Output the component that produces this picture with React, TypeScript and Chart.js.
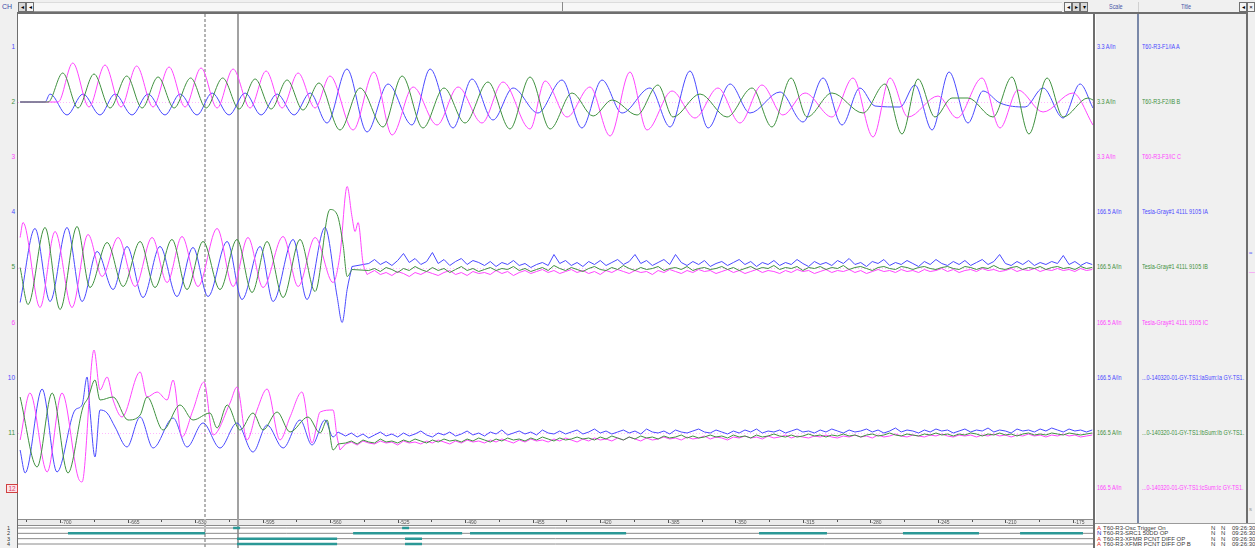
import React, { useEffect, useRef } from 'react';
import { Chart, registerables } from 'chart.js';
Chart.register(...registerables);

// ---------- axes (time in ms, amplitude in tenths of a grid step) ----------
const X_MIN = -721.8;
const X_MAX = -164.6;
const Y_MIN = 0;
const Y_MAX = 50.5;
const TICK_VALUES = [-700, -665, -630, -595, -560, -525, -490, -455, -420, -385, -350, -315, -280, -245, -210, -175];

// ---------- channel list ----------
const CHANNEL_NUMBERS = ['1', '2', '3', '4', '5', '6', '10', '11', '12'];
const CHANNEL_SCALES = ['3.3 A/In', '3.3 A/In', '3.3 A/In', '166.5 A/In', '166.5 A/In', '166.5 A/In', '166.5 A/In', '166.5 A/In', '166.5 A/In'];
const CHANNEL_TITLES = [
  'T60-R3-F1/IA A',
  'T60-R3-F2/IB B',
  'T60-R3-F3/IC C',
  'Tesla-Gray#1 411L 9105 IA',
  'Tesla-Gray#1 411L 9105 IB',
  'Tesla-Gray#1 411L 9105 IC',
  '...0-140320-01-GY-TS1:IaSum:Ia GY-TS1.',
  '...0-140320-01-GY-TS1:IbSum:Ib GY-TS1.',
  '...0-140320-01-GY-TS1:IcSum:Ic GY-TS1.',
];
const GROUP_BASE = [41.7, 25.15, 8.6];
const CURSORS = [-624.8, -607.8];

// ---------- group 1 : T60-R3 (time ms, value) ----------
const TOP_BLUE: [number, number][] = [
  [-720.7, 0], [-707.8, 0], [-705.2, 0.8], [-696.4, -1.3], [-688.1, 0.8], [-679.3, -1.3], [-671.5, 0.8], [-662.7, -1.3],
  [-654.4, 0.8], [-645.6, -1.3], [-637.8, 0.8], [-629.0, -1.3], [-621.2, 0.9], [-612.4, -1.3], [-604.1, 0.9], [-595.8, -1.3],
  [-587.5, 0.8], [-578.7, -1.3], [-570.4, 0.9], [-561.6, -2.1], [-551.3, 3.3], [-540.9, -3.0], [-530.0, 1.8], [-517.6, -2.3],
  [-508.2, 3.3], [-496.3, -2.6], [-486.5, 2.3], [-475.6, -1.8], [-465.2, 1.4], [-452.3, -1.1], [-439.8, 2.2], [-429.5, -2.6],
  [-419.1, 2.2], [-408.7, -1.1], [-394.2, 1.4], [-383.8, -2.5], [-373.5, 3.1], [-364.1, -2.6], [-352.7, 1.8], [-342.4, -1.1],
  [-326.8, 1.0], [-314.9, -2.0], [-304.5, 2.4], [-294.7, -2.3], [-285.4, 1.4], [-277.6, -0.4], [-264.6, -0.5], [-256.9, 1.7],
  [-248.0, -2.8], [-239.2, 3.0], [-229.4, -2.1], [-221.6, 1.1], [-212.8, -0.1], [-199.8, -0.5], [-190.5, 1.4], [-180.1, -1.6],
  [-171.3, 1.8], [-164.6, -0.6],
];
const TOP_GREEN: [number, number][] = [
  [-720.7, 0], [-706.2, 0], [-698.6, 2.9], [-690.7, -0.6], [-682.4, 2.8], [-674.1, -0.6], [-665.4, 2.6], [-657.5, -0.6],
  [-649.2, 2.5], [-640.9, -0.6], [-632.3, 2.4], [-624.3, -0.6], [-615.7, 2.4], [-607.2, -0.7], [-598.9, 2.3], [-590.6, -0.7],
  [-582.3, 2.2], [-574.1, -0.8], [-565.8, 1.9], [-554.9, -2.8], [-544.5, 1.4], [-532.6, -2.5], [-522.7, 2.6], [-511.9, -2.6],
  [-501.0, 1.4], [-490.1, -2.1], [-478.2, 2.0], [-466.8, -2.7], [-456.4, 2.5], [-446.0, -2.7], [-434.6, 0.9], [-423.7, -1.4],
  [-413.9, 0.2], [-400.9, -1.3], [-390.1, 1.7], [-382.3, -1.5], [-368.3, 0.8], [-354.3, -1.5], [-341.3, 1.4], [-331.0, -2.5],
  [-321.1, 2.4], [-312.8, -1.5], [-299.9, 0.9], [-283.8, -1.1], [-272.4, 1.8], [-263.6, -3.2], [-255.3, 2.3], [-246.5, -1.5],
  [-237.7, 0.4], [-229.4, 0.4], [-216.4, -1.5], [-206.6, 2.5], [-197.8, -3.2], [-188.4, 2.4], [-180.1, -1.5], [-167.2, 0.4],
  [-164.6, 0.2],
];
const TOP_PINK: [number, number][] = [
  [-720.7, 0], [-701.0, 0], [-693.4, 3.9], [-685.0, -0.5], [-676.7, 3.7], [-668.4, -0.5], [-660.3, 3.6], [-651.8, -0.5],
  [-643.5, 3.5], [-635.2, -0.5], [-626.9, 3.4], [-618.6, -0.6], [-610.3, 3.3], [-601.5, -0.6], [-593.2, 3.1], [-584.9, -0.6],
  [-576.6, 2.9], [-567.8, -0.6], [-560.1, 2.6], [-548.1, -2.8], [-537.3, 3.0], [-527.9, -3.3], [-517.0, 1.5], [-504.6, -2.3],
  [-493.7, 1.5], [-481.3, -2.1], [-470.4, 2.0], [-456.4, -2.7], [-448.6, 2.1], [-437.2, -1.5], [-425.3, 1.5], [-414.9, -3.4],
  [-404.6, 3.0], [-395.8, -2.8], [-382.8, 1.1], [-370.9, -1.6], [-359.0, 1.4], [-347.6, -2.1], [-336.2, 1.7], [-325.3, -1.3],
  [-313.9, 0.9], [-299.9, -1.5], [-289.0, 2.4], [-278.6, -3.5], [-269.8, 2.4], [-260.5, -1.5], [-244.9, 0.6], [-235.1, -1.6],
  [-222.1, 2.4], [-212.8, -2.6], [-203.5, 1.2], [-190.5, -1.0], [-175.0, 0.9], [-164.6, -2.3],
];

// ---------- group 2 : Tesla-Gray#1 411L 9105 ----------
const MID_BLUE: [number, number][] = [
  [-720.7, -3.5], [-713.0, 3.9], [-705.2, -3.4], [-696.4, 4.0], [-688.6, -3.4], [-680.8, 1.6], [-672.5, -2.2], [-665.3, 2.1],
  [-657.0, -3.0], [-648.2, 2.1], [-639.4, -2.9], [-631.1, 2.0], [-623.3, -2.9], [-613.4, 2.6], [-605.7, -3.2], [-596.3, 2.1],
  [-589.6, -3.4], [-579.2, 2.8], [-572.0, -3.2], [-562.7, 4.0], [-556.4, -2.9], [-553.8, -5.5], [-551.2, -2.2], [-548.7, 0.1],
];
const MID_GREEN: [number, number][] = [
  [-720.7, 0], [-716.6, -3.7], [-707.8, 4.0], [-700.0, -4.2], [-691.2, 4.1], [-684.5, -2.0], [-675.6, 2.5], [-667.3, -1.9],
  [-658.5, 2.6], [-650.8, -2.0], [-642.0, 2.8], [-634.2, -2.2], [-625.9, 2.6], [-617.1, -2.2], [-608.3, 2.8], [-600.5, -2.5],
  [-592.7, 2.6], [-584.4, -3.0], [-575.6, 2.8], [-567.8, -2.4], [-560.1, 5.8], [-556.4, 5.3], [-553.3, 2.3], [-551.2, -0.9],
  [-548.7, -0.2],
];
const MID_PINK: [number, number][] = [
  [-720.7, 3.0], [-719.2, 4.5], [-710.4, -4.0], [-702.6, 3.6], [-693.8, -4.0], [-685.5, 3.3], [-678.2, -0.9], [-669.9, 3.0],
  [-661.1, -1.9], [-652.3, 3.0], [-644.5, -1.5], [-636.8, 3.1], [-628.5, -1.9], [-618.6, 3.9], [-610.3, -1.9], [-602.6, 3.0],
  [-594.8, -2.0], [-584.4, 3.1], [-576.6, -1.9], [-567.8, 3.0], [-558.5, -1.5], [-554.9, 1.3], [-551.2, 8.1], [-548.7, 5.1],
  [-547.1, 3.6], [-545.5, 4.5], [-543.0, 0.5], [-540.9, -0.7],
];
const MID_NOISE_T0 = -540;
const MID_NOISE_DT = 3;
const MID_BLUE_NOISE = [
  0.4, 0.8, 0.3, 0.6, 0.2, 0.7, 1.4, 0.5, 0.9, 0.3, 0.6, 1.5, 0.4, 0.8, 0.2, 0.6, 0.9, 0.3, 0.7, 0.5,
  0.2, 0.6, 0.1, 0.5, 0.3, 0.7, 0.2, 0.4, 0.0, 0.3, 0.5, 0.2, 1.3, 0.4, 0.7, 0.2, 0.5, 0.1, 0.6, 0.3,
  0.7, 0.2, 0.5, 0.8, 0.3, 0.6, 1.3, 0.4, 0.7, 0.2, 0.5, 0.8, 0.3, 1.3, 0.5, 0.2, 0.6, 0.3, 0.7, 0.1,
  0.4, 0.6, 0.2, 0.5, 0.8, 0.3, 0.6, 0.1, 0.5, 0.3, 0.7, 0.2, 0.5, 0.3, 0.8, 0.4, 0.1, 0.6, 0.3, 0.5,
  0.2, 0.7, 0.4, 0.9, 0.3, 0.5, 0.1, 0.6, 0.4, 0.8, 0.2, 0.5, 0.3, 0.7, 0.4, 0.1, 0.6, 0.3, 0.8, 0.4,
  0.2, 0.6, 0.3, 0.7, 0.2, 0.5, 0.8, 0.3, 0.6, 1.3, 0.4, 0.2, 0.6, 0.3, 0.7, 0.2, 0.5, 0.3, 0.6, 0.4,
  1.2, 0.3, 0.6, 0.2, 0.5, 0.3,
];
const MID_GREEN_NOISE = [
  -0.3, -0.1, -0.4, 0.0, -0.2, -0.5, -0.1, -0.3, 0.1, -0.2, -0.4, 0.0, -0.3, -0.1, -0.5, -0.2, 0.1, -0.3, -0.1, -0.4,
  -0.2, 0.0, -0.3, -0.1, -0.2, 0.1, -0.3, -0.1, -0.4, -0.2, 0.0, -0.3, 0.2, -0.1, -0.3, 0.0, -0.2, -0.4, -0.1, 0.1,
  -0.2, -0.3, 0.0, -0.2, 0.2, -0.1, -0.3, 0.0, -0.2, -0.1, 0.1, -0.3, -0.1, 0.0, -0.2, 0.1, -0.3, -0.1, 0.0, -0.2,
  -0.1, 0.1, -0.2, 0.0, -0.3, -0.1, 0.1, -0.2, 0.0, -0.1, 0.2, -0.2, 0.0, -0.1, 0.1, -0.3, 0.0, -0.1, 0.1, -0.2,
  0.0, -0.1, 0.2, -0.2, 0.0, 0.1, -0.1, -0.3, 0.0, 0.1, -0.1, -0.2, 0.1, 0.0, -0.2, 0.0, 0.1, -0.1, -0.2, 0.0,
  0.1, -0.1, -0.2, 0.1, 0.0, -0.2, 0.0, -0.1, 0.2, -0.1, -0.2, 0.0, 0.1, -0.2, 0.0, -0.1, 0.1, -0.2, 0.0, 0.1,
  -0.1, 0.0, -0.2, 0.1, -0.1, 0.0,
];
const MID_PINK_NOISE = [
  -0.6, -0.3, -0.7, -0.5, -0.8, -0.4, -0.6, -0.9, -0.5, -0.7, -0.4, -0.6, -0.8, -0.5, -0.3, -0.7, -0.5, -0.8, -0.4, -0.6,
  -0.5, -0.7, -0.3, -0.6, -0.4, -0.8, -0.5, -0.3, -0.6, -0.4, -0.2, -0.5, -0.3, -0.6, -0.4, -0.2, -0.5, -0.3, -0.6, -0.4,
  -0.7, -0.3, -0.5, -0.2, -0.4, -0.6, -0.3, -0.5, -0.4, -0.7, -0.3, -0.5, -0.2, -0.4, -0.6, -0.3, -0.5, -0.2, -0.4, -0.3,
  -0.6, -0.4, -0.2, -0.5, -0.3, -0.6, -0.4, -0.2, -0.5, -0.3, -0.4, -0.6, -0.3, -0.5, -0.2, -0.4, -0.3, -0.6, -0.4, -0.2,
  -0.5, -0.3, -0.4, -0.2, -0.5, -0.3, -0.6, -0.4, -0.2, -0.4, -0.3, -0.5, -0.2, -0.4, -0.3, -0.5, -0.2, -0.4, -0.3, -0.1,
  -0.4, -0.2, -0.5, -0.3, -0.2, -0.4, -0.1, -0.3, -0.2, -0.4, -0.3, -0.1, -0.4, -0.2, -0.3, -0.1, -0.4, -0.2, -0.3, -0.1,
  -0.3, -0.2, -0.4, -0.1, -0.3, -0.2,
];

// ---------- group 3 : GY-TS1 sums ----------
const BOT_BLUE: [number, number][] = [
  [-720.7, -1.7], [-718.1, -4.0], [-709.3, 4.4], [-701.6, -3.9], [-692.2, 2.3], [-688.6, 2.8], [-686.0, 5.6], [-684.5, 2.3],
  [-681.9, -2.4], [-679.3, 2.3], [-675.6, 2.0], [-671.5, 0.6], [-665.3, -1.4], [-658.5, 1.6], [-651.8, -1.5], [-641.4, 1.5],
  [-634.2, -1.4], [-625.9, 1.0], [-617.1, -1.5], [-608.3, 1.0], [-600.0, -1.9], [-592.7, 0.8], [-584.4, -1.5], [-575.6, 1.3],
  [-569.4, -1.2], [-562.7, 1.3], [-558.5, -0.4], [-555.9, 0.1],
];
const BOT_GREEN: [number, number][] = [
  [-720.7, 3.6], [-711.9, -3.4], [-704.1, 4.0], [-695.9, -4.0], [-688.1, 2.6], [-685.5, 3.5], [-681.9, 5.3], [-679.3, 3.3],
  [-672.5, 3.6], [-664.8, 1.3], [-658.5, 1.8], [-654.9, 3.6], [-646.6, 0.3], [-637.8, 2.8], [-631.1, 1.3], [-622.3, 2.0],
  [-618.6, 0.5], [-613.4, 2.8], [-606.7, 0.3], [-600.0, 2.0], [-594.8, 0.3], [-587.5, 2.1], [-580.8, 0.1], [-571.5, 1.6],
  [-565.2, 0.0], [-561.6, 1.3], [-558.5, -1.7], [-555.9, -1.1],
];
const BOT_PINK: [number, number][] = [
  [-720.7, -0.7], [-715.6, 4.0], [-706.7, -3.9], [-699.0, 4.0], [-690.7, -4.4], [-688.6, -4.9], [-682.4, 8.3], [-679.3, 4.3],
  [-675.6, 5.6], [-672.5, 3.3], [-667.9, 1.6], [-658.5, 6.1], [-654.9, 3.6], [-649.7, 4.1], [-644.5, 3.3], [-641.4, 5.3],
  [-636.8, -0.4], [-631.1, 2.3], [-625.4, 5.1], [-620.7, -0.2], [-611.9, 3.0], [-608.3, 4.6], [-603.1, -0.7], [-597.9, 2.3],
  [-592.7, 4.4], [-586.0, -0.7], [-580.8, 1.6], [-574.6, 4.1], [-569.4, -1.0], [-565.2, 2.1], [-558.5, 2.3], [-556.4, -0.4],
  [-554.9, -1.7],
];
const BOT_NOISE_T0 = -552;
const BOT_NOISE_DT = 3;
const BOT_BLUE_NOISE = [
  -0.3, 0.0, -0.4, -0.1, -0.5, -0.2, 0.1, -0.3, -0.1, -0.4, 0.0, -0.3, -0.1, 0.2, -0.2, -0.4, 0.0, -0.2, 0.1, -0.3,
  -0.1, 0.2, -0.2, 0.0, -0.3, 0.1, -0.1, 0.3, -0.2, 0.0, 0.2, -0.1, 0.1, -0.2, 0.3, 0.0, -0.1, 0.2, -0.1, 0.1,
  0.3, -0.1, 0.1, 0.4, 0.0, 0.2, -0.1, 0.1, 0.3, 0.0, 0.2, -0.1, 0.4, 0.1, 0.0, 0.2, -0.1, 0.3, 0.1, 0.0,
  0.2, 0.4, 0.1, 0.0, 0.3, 0.1, -0.1, 0.2, 0.0, 0.3, 0.1, 0.4, 0.0, 0.2, 0.1, 0.3, 0.0, 0.2, 0.4, 0.1,
  0.2, 0.0, 0.3, 0.1, 0.4, 0.2, 0.0, 0.3, 0.1, 0.2, 0.4, 0.1, 0.3, 0.0, 0.2, 0.5, 0.1, 0.3, 0.2, 0.0,
  0.3, 0.1, 0.4, 0.2, 0.3, 0.0, 0.2, 0.4, 0.1, 0.3, 0.2, 0.5, 0.1, 0.3, 0.2, 0.0, 0.4, 0.2, 0.3, 0.1,
  0.4, 0.2, 0.5, 0.3, 0.1, 0.4, 0.2, 0.3, 0.1, 0.3,
];
const BOT_GREEN_NOISE = [
  -1.0, -0.8, -1.1, -0.7, -0.9, -1.0, -0.6, -0.9, -0.8, -1.0, -0.7, -0.9, -0.6, -0.8, -1.0, -0.7, -0.9, -0.6, -0.8, -0.7,
  -0.9, -0.6, -0.8, -0.5, -0.7, -0.9, -0.6, -0.8, -0.5, -0.7, -0.6, -0.8, -0.5, -0.7, -0.4, -0.6, -0.8, -0.5, -0.7, -0.6,
  -0.4, -0.6, -0.5, -0.7, -0.4, -0.6, -0.3, -0.5, -0.7, -0.4, -0.6, -0.3, -0.5, -0.4, -0.6, -0.3, -0.5, -0.4, -0.2, -0.5,
  -0.3, -0.5, -0.4, -0.2, -0.4, -0.3, -0.5, -0.2, -0.4, -0.3, -0.5, -0.2, -0.4, -0.3, -0.1, -0.3, -0.4, -0.2, -0.4, -0.3,
  -0.1, -0.3, -0.2, -0.4, -0.2, -0.3, -0.1, -0.3, -0.2, -0.4, -0.2, -0.1, -0.3, -0.2, 0.0, -0.2, -0.3, -0.1, -0.2, -0.3,
  -0.1, -0.2, 0.0, -0.2, -0.1, -0.3, -0.1, -0.2, 0.0, -0.1, -0.3, -0.1, -0.2, 0.0, -0.2, -0.1, -0.3, -0.1, 0.0, -0.2,
  -0.1, -0.2, 0.0, -0.1, -0.2, 0.0, -0.1, -0.2, -0.1, 0.0,
];
const BOT_PINK_NOISE = [
  -1.1, -0.9, -1.2, -0.8, -1.0, -1.1, -0.8, -1.0, -0.9, -1.2, -0.8, -1.0, -0.9, -1.1, -0.8, -1.0, -0.7, -0.9, -1.1, -0.8,
  -1.0, -0.7, -0.9, -0.8, -1.0, -0.7, -0.9, -0.6, -0.8, -1.0, -0.7, -0.9, -0.6, -0.8, -0.7, -0.9, -0.6, -0.8, -0.5, -0.7,
  -0.9, -0.6, -0.8, -0.5, -0.7, -0.6, -0.8, -0.5, -0.7, -0.4, -0.6, -0.8, -0.5, -0.7, -0.6, -0.4, -0.6, -0.5, -0.7, -0.4,
  -0.6, -0.5, -0.3, -0.6, -0.4, -0.5, -0.7, -0.4, -0.5, -0.3, -0.5, -0.4, -0.6, -0.3, -0.5, -0.4, -0.2, -0.5, -0.3, -0.4,
  -0.5, -0.3, -0.4, -0.2, -0.4, -0.5, -0.3, -0.4, -0.2, -0.4, -0.3, -0.5, -0.2, -0.4, -0.3, -0.1, -0.3, -0.4, -0.2, -0.3,
  -0.4, -0.2, -0.3, -0.1, -0.3, -0.4, -0.2, -0.3, -0.2, -0.4, -0.2, -0.3, -0.1, -0.3, -0.2, -0.4, -0.2, -0.3, -0.1, -0.3,
  -0.2, -0.4, -0.2, -0.3, -0.1, -0.3, -0.2, -0.4, -0.3, -0.2,
];

// ---------- digital channels (on intervals, ms) ----------
const DIGITAL_ROWS = ['1', '2', '3', '4'];
const DIGITAL_ON: [number, number][][] = [
  [[-610.3, -606.7], [-522.7, -519.1]],
  [[-695.9, -624.8], [-548.1, -491.6], [-487.5, -406.6], [-337.7, -302.5], [-263.1, -223.7], [-202.4, -169.8]],
  [[-608.3, -556.4], [-521.2, -512.4]],
  [[-608.3, -556.4], [-521.2, -512.4]],
];
const DIGITAL_NAMES = ['T60-R3-Osc Trigger On', 'T60-R3-SRC1 50DD OP', 'T60-R3-XFMR PCNT DIFF OP', 'T60-R3-XFMR PCNT DIFF OP B'];
const DIGITAL_TYPES = ['A', 'N', 'A', 'A'];

const BLUE = '#4a4aff';
const GREEN = '#3f913f';
const MAGENTA = '#ff45ff';
const CH_COLORS = [BLUE, GREEN, MAGENTA, BLUE, GREEN, MAGENTA, BLUE, GREEN, MAGENTA];
const FONT = "'Liberation Sans', Arial, sans-serif";

const PLOT_LEFT = 18;
const PLOT_TOP = 14;
const PLOT_W = 1075;
const PLOT_H = 505;
const ROW0_Y = 47;
const ROW_STEP = 55.1;

function pairs(list: [number, number][], base: number) {
  return list.map(([t, v]) => ({ x: t, y: base + v }));
}
function series(list: number[], t0: number, dt: number, base: number) {
  return list.map((v, i) => ({ x: t0 + i * dt, y: base + v }));
}

const cursorPlugin = {
  id: 'cursors',
  beforeDatasetsDraw(chart: any) {
    const { ctx, scales } = chart;
    ctx.save();
    CURSORS.forEach((t, i) => {
      const px = Math.round(scales.x.getPixelForValue(t));
      ctx.beginPath();
      ctx.lineWidth = 2;
      ctx.strokeStyle = i === 0 ? '#b4b4b4' : '#a2a2a2';
      ctx.setLineDash(i === 0 ? [3, 2] : []);
      ctx.moveTo(px, 0);
      ctx.lineTo(px, chart.height);
      ctx.stroke();
    });
    ctx.restore();
  },
};

const baselinePlugin = {
  id: 'baselines',
  beforeDatasetsDraw(chart: any) {
    const { ctx, chartArea, scales } = chart;
    ctx.save();
    ctx.strokeStyle = '#ffb8ff';
    ctx.lineWidth = 1;
    ctx.setLineDash([1, 2]);
    GROUP_BASE.forEach((b) => {
      const py = Math.round(scales.y.getPixelForValue(b)) + 0.5;
      ctx.beginPath();
      ctx.moveTo(chartArea.left, py);
      ctx.lineTo(chartArea.right, py);
      ctx.stroke();
    });
    ctx.restore();
  },
};

const stripPlugin = {
  id: 'timeStrip',
  beforeDraw(chart: any) {
    const { ctx, scales, width } = chart;
    ctx.save();
    ctx.fillStyle = '#ffffff';
    ctx.fillRect(0, 0, width, chart.height);
    ctx.fillStyle = '#ececec';
    ctx.fillRect(0, 0, width, 6);
    ctx.fillStyle = '#8c8c8c';
    ctx.fillRect(0, 0, width, 1);
    ctx.fillRect(0, 6, width, 1);
    ctx.fillStyle = '#555';
    ctx.font = `5px ${FONT}`;
    ctx.textBaseline = 'middle';
    TICK_VALUES.forEach((t) => {
      const px = Math.round(scales.x.getPixelForValue(t));
      ctx.fillRect(px, 1, 1, 3);
      ctx.fillText(String(t), px + 1.5, 3.8);
      const mx = Math.round(scales.x.getPixelForValue(t + 17.5));
      if (t + 17.5 < X_MAX) ctx.fillRect(mx, 1, 1, 2);
      const mx0 = Math.round(scales.x.getPixelForValue(t - 17.5));
      if (t === TICK_VALUES[0]) ctx.fillRect(mx0, 1, 1, 2);
    });
    ctx.restore();
  },
};

export default function App() {
  const analogRef = useRef<HTMLCanvasElement>(null);
  const digitalRef = useRef<HTMLCanvasElement>(null);

  useEffect(() => {
    if (!analogRef.current || !digitalRef.current) return;
    const smooth = (data: any[], color: string) => ({
      data,
      borderColor: color,
      borderWidth: 1,
      pointRadius: 0,
      fill: false,
      cubicInterpolationMode: 'monotone',
    });
    const jagged = (data: any[], color: string) => ({
      data,
      borderColor: color,
      borderWidth: 1,
      pointRadius: 0,
      fill: false,
      tension: 0,
    });
    const withNoise = (osc: [number, number][], noise: number[], t0: number, dt: number, base: number, color: string) => {
      const head = pairs(osc, base);
      const tail = [head[head.length - 1], ...series(noise, t0, dt, base)];
      return [jagged(tail, color), smooth(head, color)];
    };
    const [b1, b2, b3] = GROUP_BASE;
    const analog = new Chart(analogRef.current, {
      type: 'line',
      data: {
        datasets: [
          smooth(pairs(TOP_GREEN, b1), GREEN),
          smooth(pairs(TOP_PINK, b1), MAGENTA),
          smooth(pairs(TOP_BLUE, b1), BLUE),
          ...withNoise(MID_GREEN, MID_GREEN_NOISE, MID_NOISE_T0, MID_NOISE_DT, b2, GREEN),
          ...withNoise(MID_PINK, MID_PINK_NOISE, MID_NOISE_T0, MID_NOISE_DT, b2, MAGENTA),
          ...withNoise(MID_BLUE, MID_BLUE_NOISE, MID_NOISE_T0, MID_NOISE_DT, b2, BLUE),
          ...withNoise(BOT_GREEN, BOT_GREEN_NOISE, BOT_NOISE_T0, BOT_NOISE_DT, b3, GREEN),
          ...withNoise(BOT_PINK, BOT_PINK_NOISE, BOT_NOISE_T0, BOT_NOISE_DT, b3, MAGENTA),
          ...withNoise(BOT_BLUE, BOT_BLUE_NOISE, BOT_NOISE_T0, BOT_NOISE_DT, b3, BLUE),
        ] as any,
      },
      options: {
        animation: false,
        responsive: false,
        devicePixelRatio: 1,
        parsing: false as any,
        normalized: true,
        layout: { padding: 0 },
        plugins: { legend: { display: false }, tooltip: { enabled: false } },
        events: [],
        scales: {
          x: { type: 'linear', min: X_MIN, max: X_MAX, display: false },
          y: { type: 'linear', min: Y_MIN, max: Y_MAX, display: false },
        },
      },
      plugins: [baselinePlugin, cursorPlugin],
    });

    const digitalSets: any[] = [];
    DIGITAL_ROWS.forEach((_, r) => {
      digitalSets.push({
        data: [{ x: X_MIN, y: r + 1 }, { x: X_MAX, y: r + 1 }],
        borderColor: '#8a8a8a',
        borderWidth: 1,
        pointRadius: 0,
        order: 2,
      });
      const pts: any[] = [];
      DIGITAL_ON[r].forEach(([s, e]) => {
        pts.push({ x: s, y: r + 1 }, { x: e, y: r + 1 }, { x: e, y: null });
      });
      digitalSets.push({
        data: pts,
        borderColor: '#2b9896',
        borderWidth: 2.5,
        pointRadius: 0,
        order: 1,
        spanGaps: false,
      });
    });
    const digital = new Chart(digitalRef.current, {
      type: 'line',
      data: { datasets: digitalSets },
      options: {
        animation: false,
        responsive: false,
        devicePixelRatio: 1,
        parsing: false as any,
        layout: { padding: { top: 7, left: 0, right: 0, bottom: 0 } },
        plugins: { legend: { display: false }, tooltip: { enabled: false } },
        events: [],
        scales: {
          x: { type: 'linear', min: X_MIN, max: X_MAX, display: false },
          y: { type: 'linear', min: 0.625, max: 4.75, reverse: true, display: false },
        },
      },
      plugins: [stripPlugin, cursorPlugin],
    });
    return () => {
      analog.destroy();
      digital.destroy();
    };
  }, []);

  const small: React.CSSProperties = { position: 'absolute', fontFamily: FONT, fontSize: 6.5, lineHeight: '8px', whiteSpace: 'nowrap' };
  const narrow: React.CSSProperties = { ...small, transform: 'scaleX(0.84)', transformOrigin: 'left center' };
  const btn = (left: number, glyph: string, dark = false): React.ReactNode => (
    <div
      key={left}
      style={{
        position: 'absolute', left, top: 2, width: 6, height: 8, border: '1px solid #707070', background: dark ? '#d8d8d8' : '#f4f4f4',
        fontSize: 6, lineHeight: '8px', textAlign: 'center', color: '#000', fontFamily: FONT,
      }}
    >
      {glyph}
    </div>
  );

  return (
    <div style={{ position: 'fixed', left: 0, top: 0, width: 1255, height: 548, background: '#f0f0f0', overflow: 'hidden' }}>
      {/* header */}
      <div style={{ ...small, left: 2, top: 3, color: '#3848a8', fontSize: 7 }}>CH</div>
      {btn(18, '◂', true)}
      {btn(26, '◂')}
      <div style={{ position: 'absolute', left: 34, top: 2, width: 1028, height: 8, background: '#f7f7f7', borderTop: '1px solid #dcdcdc', borderBottom: '1px solid #9a9a9a' }} />
      <div style={{ position: 'absolute', left: 562, top: 2, width: 1, height: 9, background: '#8a8a8a' }} />
      {btn(1064, '◂')}
      {btn(1072, '▸', true)}
      {btn(1080, '▾', true)}
      <div style={{ ...narrow, left: 1109, top: 3, color: '#4858a8' }}>Scale</div>
      <div style={{ position: 'absolute', left: 1138, top: 2, width: 1, height: 10, background: '#d0d0d0' }} />
      <div style={{ ...narrow, left: 1181, top: 3, color: '#4858a8' }}>Title</div>
      {btn(1239, '◂')}
      {btn(1247, '×')}

      {/* top frame line */}
      <div style={{ position: 'absolute', left: 17, top: 12, width: 1231, height: 2, background: '#6e6e6e' }} />
      {/* left frame line */}
      <div style={{ position: 'absolute', left: 17, top: 12, width: 1, height: 536, background: '#6e6e6e' }} />

      {/* plot */}
      <canvas ref={analogRef} width={PLOT_W} height={PLOT_H} style={{ position: 'absolute', left: PLOT_LEFT, top: PLOT_TOP, display: 'block', background: '#fff' }} />
      <canvas ref={digitalRef} width={PLOT_W} height={29} style={{ position: 'absolute', left: PLOT_LEFT, top: 519, display: 'block', background: '#fff' }} />

      {/* left gutter numbers */}
      {CHANNEL_NUMBERS.map((n, i) => {
        const y = ROW0_Y + ROW_STEP * i;
        const last = i === CHANNEL_NUMBERS.length - 1;
        return (
          <div
            key={n}
            style={{
              ...small,
              left: last ? 6 : 2,
              width: last ? 10 : 13,
              top: y - 4,
              textAlign: last ? 'center' : 'right',
              color: last ? '#e04060' : CH_COLORS[i],
              border: last ? '1px solid #d04040' : 'none',
              background: last ? '#fbe4ea' : 'transparent',
              height: last ? 7 : 8,
              lineHeight: last ? '7px' : '8px',
            }}
          >
            {n}
          </div>
        );
      })}
      {DIGITAL_ROWS.map((n, i) => (
        <div key={'d' + n} style={{ ...small, left: 7, top: 524.5 + i * 5.5, fontSize: 5.5, lineHeight: '6px', color: '#303030' }}>{n}</div>
      ))}

      {/* right panel */}
      <div style={{ position: 'absolute', left: 1093, top: 12, width: 2, height: 536, background: '#6e6e6e' }} />
      <div style={{ position: 'absolute', left: 1095, top: 14, width: 1, height: 510, background: '#ffffff' }} />
      <div style={{ position: 'absolute', left: 1137, top: 14, width: 2, height: 510, background: '#7a88a8' }} />
      <div style={{ position: 'absolute', left: 1246, top: 12, width: 2, height: 512, background: '#6e6e6e' }} />
      {CHANNEL_SCALES.map((s, i) => (
        <div key={'s' + i} style={{ ...narrow, left: 1097, top: ROW0_Y + ROW_STEP * i - 4, color: CH_COLORS[i] }}>{s}</div>
      ))}
      {CHANNEL_TITLES.map((s, i) => (
        <div key={'t' + i} style={{ ...narrow, left: 1142, top: ROW0_Y + ROW_STEP * i - 4, color: CH_COLORS[i] }}>{s}</div>
      ))}
      <div style={{ ...small, left: 1249, top: 249, color: BLUE, fontSize: 6 }}>≈</div>
      <div style={{ ...small, left: 1249, top: 268, color: MAGENTA, fontSize: 6 }}>—</div>
      <div style={{ ...small, left: 1249, top: 505, color: '#9a9a9a', fontSize: 6 }}>s</div>

      {/* digital legend */}
      <div style={{ position: 'absolute', left: 1095, top: 523, width: 160, height: 25, background: '#ffffff', borderTop: '1px solid #9a9a9a' }} />
      {DIGITAL_NAMES.map((name, i) => (
        <React.Fragment key={'n' + i}>
          <div style={{ ...small, left: 1097, top: 524.5 + i * 5.5, fontSize: 6, lineHeight: '6px', color: DIGITAL_TYPES[i] === 'A' ? '#e02828' : '#2828c0' }}>{DIGITAL_TYPES[i]}</div>
          <div style={{ ...small, left: 1103, top: 524.5 + i * 5.5, fontSize: 6, lineHeight: '6px', color: '#3a3a3a' }}>{name}</div>
          <div style={{ ...small, left: 1211, top: 524.5 + i * 5.5, fontSize: 6, lineHeight: '6px', color: '#3a3a3a' }}>N</div>
          <div style={{ ...small, left: 1221, top: 524.5 + i * 5.5, fontSize: 6, lineHeight: '6px', color: '#3a3a3a' }}>N</div>
          <div style={{ ...small, left: 1232, top: 524.5 + i * 5.5, fontSize: 6, lineHeight: '6px', color: '#3a3a3a' }}>09:26:30</div>
        </React.Fragment>
      ))}
    </div>
  );
}
